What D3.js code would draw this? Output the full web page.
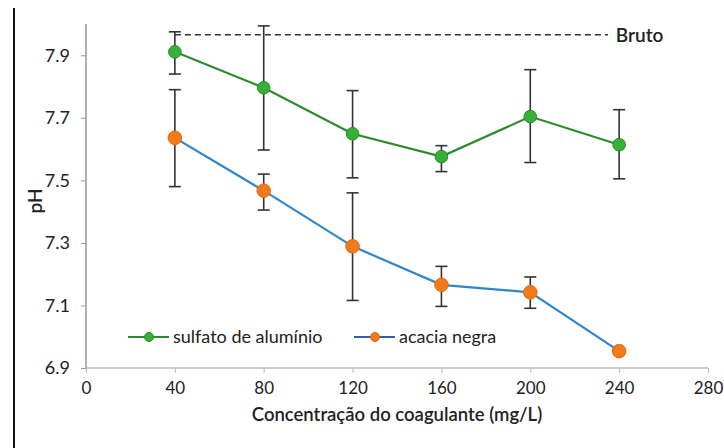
<!DOCTYPE html>
<html lang="pt">
<head>
<meta charset="UTF-8">
<title>pH</title>
<script src="https://cdnjs.cloudflare.com/ajax/libs/d3/7.8.5/d3.min.js"></script>
<style>
  body { margin: 0; background: #fff; }
  text { font-family: Lato, "Open Sans", sans-serif; fill: #222; }
</style>
</head>
<body>
<div id="chart"></div>
<script>
  // concentrations (mg/L)
  var doses = [40, 80, 120, 160, 200, 240];
  // sulfato de aluminio
  var sulfato = [7.911, 7.796, 7.649, 7.576, 7.704, 7.614];
  var sulfatoHi = [7.975, 7.994, 7.787, 7.611, 7.854, 7.726];
  var sulfatoLo = [7.840, 7.597, 7.508, 7.528, 7.557, 7.505];
  // acacia negra
  var acacia = [7.636, 7.467, 7.289, 7.166, 7.142, 6.954];
  var acaciaHi = [7.790, 7.520, 7.460, 7.225, 7.191, 6.962];
  var acaciaLo = [7.480, 7.405, 7.116, 7.097, 7.091, 6.946];
  var bruto = 7.966;
  var xTicks = [0, 40, 80, 120, 160, 200, 240, 280];
  var yTicks = [6.9, 7.1, 7.3, 7.5, 7.7, 7.9];

  var W = 724, H = 448;
  var svg = d3.select("#chart").append("svg").attr("width", W).attr("height", H);

  var x = d3.scaleLinear().domain([0, 280]).range([86, 708]);
  var y = d3.scaleLinear().domain([6.9, 8.0]).range([368, 24]);

  // frame line on the left of the cropped figure
  svg.append("line").attr("x1", 14).attr("x2", 14).attr("y1", 8).attr("y2", H)
    .attr("stroke", "#111").attr("stroke-width", 2);

  var yAxis = svg.append("g").attr("transform", "translate(86,0)")
    .call(d3.axisLeft(y).tickValues(yTicks).tickFormat(d3.format(".1f")).tickSize(5).tickPadding(11));
  yAxis.select(".domain").attr("stroke", "#999").attr("stroke-width", 1.5).attr("d", "M0,24V368");
  yAxis.selectAll(".tick line").attr("stroke", "#999");
  yAxis.selectAll("text").attr("font-size", 18).attr("fill", "#333");

  var xAxis = svg.append("g").attr("transform", "translate(0,368)")
    .call(d3.axisBottom(x).tickValues(xTicks).tickFormat(d3.format("d")).tickSize(5).tickPadding(9));
  xAxis.select(".domain").attr("stroke", "#bbb").attr("stroke-width", 1.5).attr("d", "M86,0H708");
  xAxis.selectAll(".tick line").attr("stroke", "#bbb");
  xAxis.selectAll("text").attr("font-size", 17).attr("fill", "#333");

  // axis titles
  svg.append("text").attr("x", 397).attr("y", 421).attr("text-anchor", "middle")
    .attr("font-size", 18.5).attr("font-weight", 600).text("Concentração do coagulante (mg/L)");
  svg.append("text").attr("transform", "translate(42,201) rotate(-90)").attr("text-anchor", "middle")
    .attr("font-size", 19).attr("font-weight", 600).text("pH");

  // raw water reference
  svg.append("line").attr("x1", x(40)).attr("x2", x(235)).attr("y1", y(bruto)).attr("y2", y(bruto))
    .attr("stroke", "#333").attr("stroke-width", 1.5).attr("stroke-dasharray", "6,4");
  svg.append("text").attr("x", x(238.5)).attr("y", y(bruto) + 7)
    .attr("font-size", 19).attr("font-weight", 600).text("Bruto");

  function series(vals, hi, lo, lineColor, dotColor, dotStroke, r) {
    var pts = doses.map(function (d, i) { return { x: d, v: vals[i], hi: hi[i], lo: lo[i] }; });
    var line = d3.line().x(function (d) { return x(d.x); }).y(function (d) { return y(d.v); });
    svg.append("path").datum(pts).attr("d", line).attr("fill", "none")
      .attr("stroke", lineColor).attr("stroke-width", 2.2);
    var eb = svg.append("g").attr("stroke", "#333").attr("stroke-width", 1.6);
    pts.forEach(function (p) {
      eb.append("line").attr("x1", x(p.x)).attr("x2", x(p.x)).attr("y1", y(p.hi)).attr("y2", y(p.lo));
      eb.append("line").attr("x1", x(p.x) - 6).attr("x2", x(p.x) + 6).attr("y1", y(p.hi)).attr("y2", y(p.hi));
      eb.append("line").attr("x1", x(p.x) - 6).attr("x2", x(p.x) + 6).attr("y1", y(p.lo)).attr("y2", y(p.lo));
    });
    svg.append("g").selectAll("circle").data(pts).join("circle")
      .attr("cx", function (d) { return x(d.x); }).attr("cy", function (d) { return y(d.v); })
      .attr("r", r).attr("fill", dotColor).attr("stroke", dotStroke).attr("stroke-width", 1);
  }

  series(sulfato, sulfatoHi, sulfatoLo, "#2b8a2b", "#36b036", "#2a8a2a", 6.3);
  series(acacia, acaciaHi, acaciaLo, "#2f86c8", "#f27a1a", "#e06a10", 6.8);

  // legend
  var legend = [
    { label: "sulfato de alumínio", line: "#2b8a2b", dot: "#36b036", stroke: "#2a8a2a", x0: 128 },
    { label: "acacia negra", line: "#2f5fa8", dot: "#f27a1a", stroke: "#e06a10", x0: 354 }
  ];
  legend.forEach(function (l) {
    var g = svg.append("g").attr("transform", "translate(" + l.x0 + ",337)");
    g.append("line").attr("x1", 0).attr("x2", 41).attr("y1", 0).attr("y2", 0)
      .attr("stroke", l.line).attr("stroke-width", 2.2);
    g.append("circle").attr("cx", 21).attr("cy", 0).attr("r", 4.5)
      .attr("fill", l.dot).attr("stroke", l.stroke);
    g.append("text").attr("x", 45).attr("y", 6).attr("font-size", 18).text(l.label);
  });
</script>
</body>
</html>
